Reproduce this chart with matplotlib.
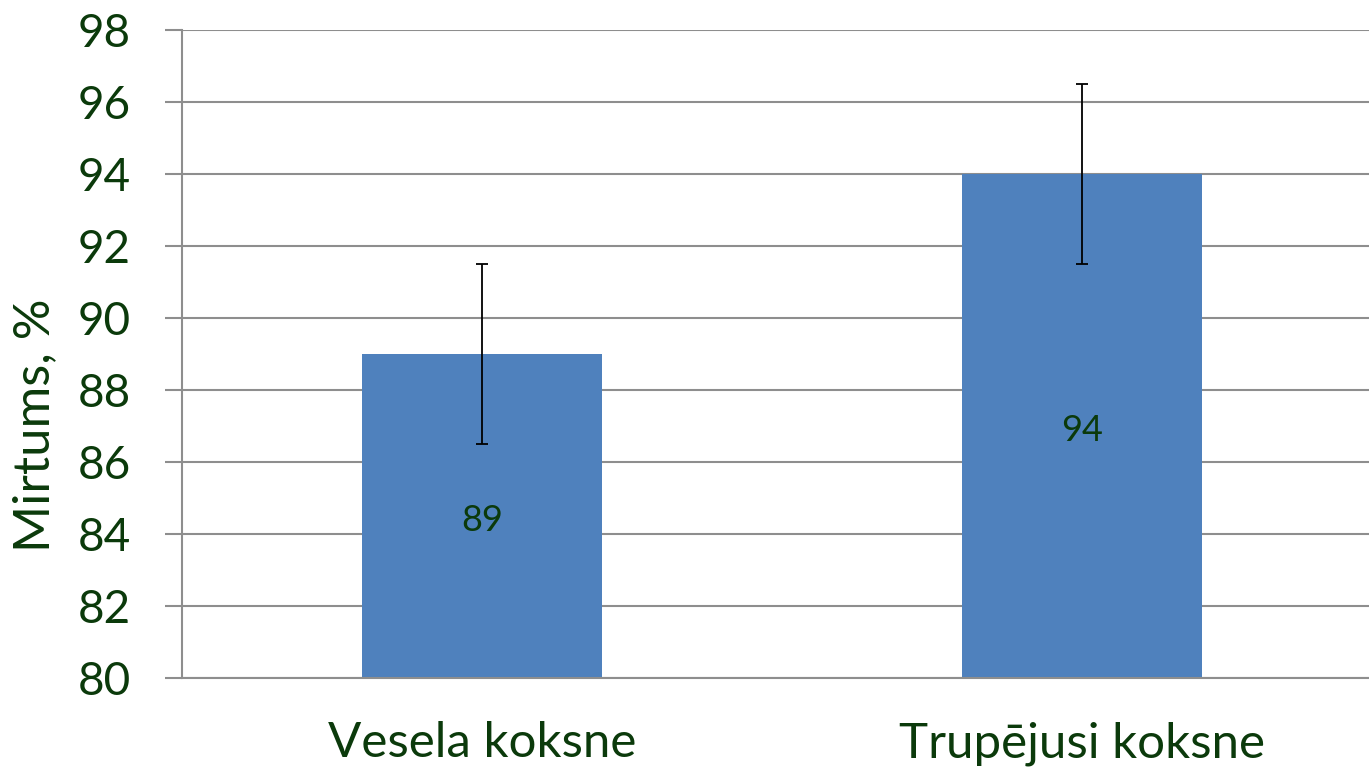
import matplotlib.pyplot as plt
import numpy as np

# data
categories = ['Vesela koksne', 'Trupējusi koksne']
values = [89, 94]
errors = [2.5, 2.5]
yticks = np.arange(80, 99, 2)

txt_color = '#0b3a0b'
grid_color = '#8e8e8e'
bar_color = '#4f81bd'

plt.rcParams['font.family'] = ['Lato', 'DejaVu Sans']

fig = plt.figure(figsize=(13.69, 7.71), dpi=100)
ax = fig.add_axes([182/1369, 93/771, 1200/1369, 648/771])

x = np.arange(len(categories))
bars = ax.bar(x, values, width=0.4, color=bar_color, zorder=2)
ax.errorbar(x, values, yerr=errors, fmt='none', ecolor='black',
            elinewidth=1.3, capsize=4.3, capthick=1.3, zorder=3)

# value labels in the middle of each bar
for b, v in zip(bars, values):
    ax.annotate(str(v), (b.get_x()+b.get_width()/2, (80+v)/2),
                xytext=(0, -3.5), textcoords='offset points',
                ha='center', va='center', fontsize=26, color=txt_color, zorder=4)

ax.set_xlim(-0.5, 1.5)
ax.set_ylim(80, 98)
ax.set_yticks(yticks)
ax.set_xticks(x)
ax.set_xticklabels(categories)

ax.yaxis.grid(True, color=grid_color, linewidth=1.5, zorder=0)
ax.set_axisbelow(True)
for s in ['top', 'right']:
    ax.spines[s].set_visible(False)
for s in ['left', 'bottom']:
    ax.spines[s].set_color(grid_color)
    ax.spines[s].set_linewidth(1.5)

ax.tick_params(axis='y', length=12, width=1.5, color=grid_color,
               pad=25, labelsize=33, labelcolor=txt_color)
ax.tick_params(axis='x', length=0, pad=31, labelsize=35.5, labelcolor=txt_color)

fig.text(35/1369, 1-425/771, 'Mirtums, %', rotation=90, ha='center',
         va='center', fontsize=36.5, color=txt_color)

plt.savefig('out.png', dpi=100)
